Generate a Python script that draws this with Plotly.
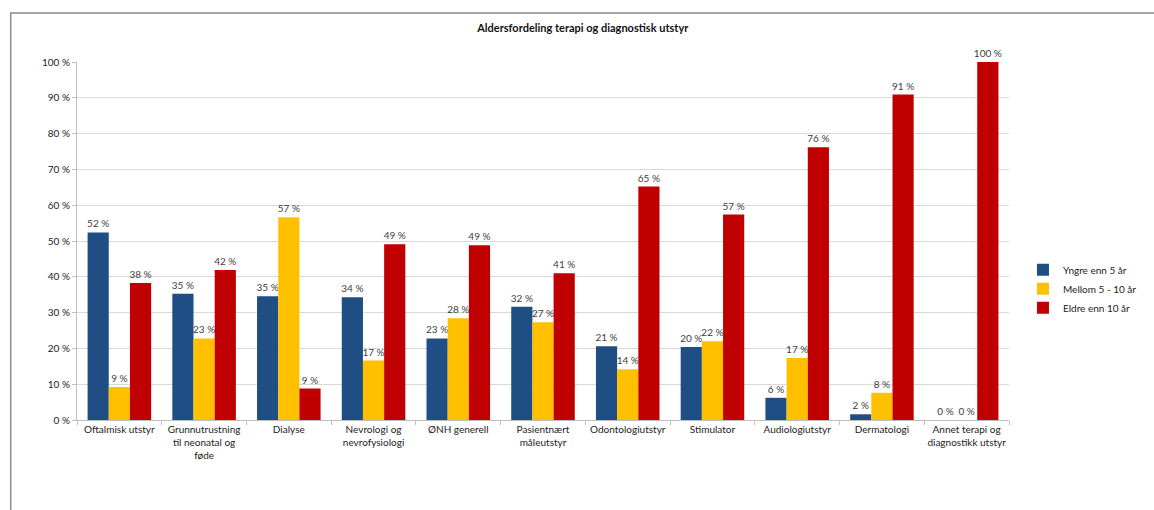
import plotly.graph_objects as go

categories = [
    "Oftalmisk utstyr",
    "Grunnutrustning<br>til neonatal og<br>føde",
    "Dialyse",
    "Nevrologi og<br>nevrofysiologi",
    "ØNH generell",
    "Pasientnært<br>måleutstyr",
    "Odontologiutstyr",
    "Stimulator",
    "Audiologiutstyr",
    "Dermatologi",
    "Annet terapi og<br>diagnostikk utstyr",
]
series_names = ["Yngre enn 5 år", "Mellom 5 - 10 år", "Eldre enn 10 år"]
yngre = [52.4, 35.3, 34.6, 34.3, 22.8, 31.6, 20.6, 20.4, 6.2, 1.6, 0]
mellom = [9.2, 22.8, 56.6, 16.6, 28.4, 27.3, 14.2, 22.0, 17.3, 7.6, 0]
eldre = [38.3, 41.9, 8.8, 49.1, 48.8, 41.0, 65.2, 57.4, 76.2, 90.9, 100]
colors = ["#1F4E85", "#FFC000", "#C00000"]
y_ticks = [0, 10, 20, 30, 40, 50, 60, 70, 80, 90, 100]

FONT = "Lato, Open Sans, sans-serif"
fig = go.Figure()
for name, vals, col in zip(series_names, [yngre, mellom, eldre], colors):
    fig.add_trace(go.Bar(
        x=categories, y=vals, name=name,
        marker=dict(color=col, line=dict(width=0)),
        texttemplate="%{y:.0f} %", textposition="outside",
        textfont=dict(size=10, color="#404040", family=FONT),
        cliponaxis=False, constraintext="none",
    ))

fig.update_layout(
    width=1154, height=510,
    margin=dict(l=77, r=107, t=62, b=90),
    paper_bgcolor="white", plot_bgcolor="white",
    barmode="group", bargap=0.25, bargroupgap=0,
    font=dict(family=FONT, size=10, color="#222"),
    title=dict(text="<b>Aldersfordeling terapi og diagnostisk utstyr</b>",
               x=0.505, xanchor="center", y=0.945, yanchor="middle",
               font=dict(size=11, color="#111", family=FONT)),
    legend=dict(x=1.015, xanchor="left", y=0.46, yanchor="top",
                font=dict(size=10, color="#222", family=FONT),
                itemwidth=30, tracegroupgap=0, bgcolor="rgba(0,0,0,0)"),
)
fig.update_xaxes(
    type="category", showline=True, linecolor="#bfbfbf", linewidth=1,
    ticks="outside", tickson="boundaries", ticklen=4, tickcolor="#bfbfbf",
    tickfont=dict(size=10, color="#222", family=FONT), tickangle=0,
)
fig.update_yaxes(
    range=[0, 100], tickvals=y_ticks, ticktext=[f"{t} %" for t in y_ticks],
    showline=True, linecolor="#bfbfbf", linewidth=1,
    ticks="outside", ticklen=4, tickcolor="#bfbfbf",
    showgrid=True, gridcolor="#d9d9d9", gridwidth=1,
    tickfont=dict(size=10, color="#222", family=FONT), zeroline=False,
)
# outer chart frame
fig.add_shape(type="rect", xref="paper", yref="paper",
              x0=(8 - 77) / 970, x1=1.2, y0=-0.4, y1=(420 - 13) / 358,
              line=dict(color="#8c8c8c", width=1.5), layer="below")

fig.write_html("out.html")
